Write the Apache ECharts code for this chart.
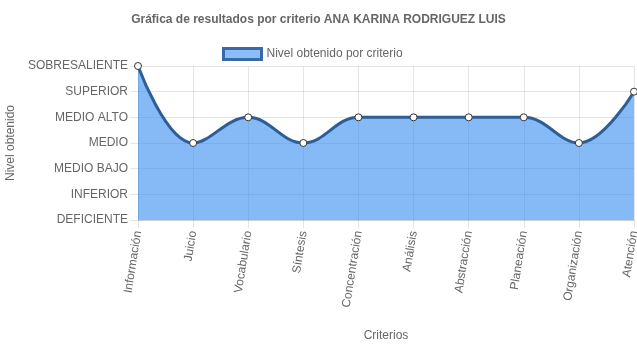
<!DOCTYPE html>
<html>
<head>
<meta charset="utf-8">
<script src="https://cdn.jsdelivr.net/npm/echarts@6/dist/echarts.min.js"></script>
<style>html,body{margin:0;padding:0;background:#fff}#c{width:637px;height:348px}</style>
</head>
<body>
<div id="c"></div>
<script>
const categories = ['Información','Juicio','Vocabulario','Síntesis','Concentración','Análisis','Abstracción','Planeación','Organización','Atención'];
const levelLabels = ['DEFICIENTE','INFERIOR','MEDIO BAJO','MEDIO','MEDIO ALTO','SUPERIOR','SOBRESALIENTE'];
const values = [6,3,4,3,4,4,4,4,3,5];
const seriesName = 'Nivel obtenido por criterio';
const titleText = 'Gráfica de resultados por criterio ANA KARINA RODRIGUEZ LUIS';

const font = 'Liberation Sans, Arial, Helvetica, sans-serif';
const lineColor = '#2d5e95';
const gridColor = 'rgba(0,0,0,0.1)';
const chart = echarts.init(document.getElementById('c'));
chart.setOption({
  animation: false,
  title: {text: titleText, left: 'center', top: 9, textStyle: {fontFamily: font, fontSize: 12, fontWeight: 'bold', color: '#666'}},
  legend: {
    top: 42, left: 217, itemWidth: 38, itemHeight: 11, itemGap: 6,
    textStyle: {fontFamily: font, fontSize: 12, color: '#666'},
    data: [{name: seriesName, icon: 'rect', itemStyle: {color: '#8bbdfa', borderColor: '#3a6aa5', borderWidth: 3}}]
  },
  grid: {left: 138, right: 3, top: 66, bottom: 128, containLabel: false, outerBoundsMode: 'none'},
  xAxis: {
    type: 'category', data: categories, boundaryGap: false,
    name: 'Criterios', nameLocation: 'middle', nameGap: 110,
    nameTextStyle: {fontFamily: font, fontSize: 12, color: '#666'},
    axisLine: {lineStyle: {color: gridColor}},
    axisTick: {show: true, length: 8, lineStyle: {color: gridColor}},
    axisLabel: {interval: 0, rotate: 81, fontFamily: font, fontSize: 12, color: '#666', margin: 11},
    splitLine: {show: true, lineStyle: {color: gridColor}}
  },
  yAxis: {
    type: 'value', min: 0, max: 6, interval: 1,
    name: 'Nivel obtenido', nameLocation: 'middle', nameGap: 117, nameRotate: 90,
    nameTextStyle: {fontFamily: font, fontSize: 12, color: '#666'},
    axisLine: {show: true, lineStyle: {color: gridColor}},
    axisTick: {show: true, length: 8, lineStyle: {color: gridColor}},
    axisLabel: {formatter: v => levelLabels[v] || '', fontFamily: font, fontSize: 12, color: '#666', margin: 10},
    splitLine: {show: true, lineStyle: {color: gridColor}}
  },
  series: [{
    name: seriesName, type: 'line', data: values, smooth: 0.4, clip: false,
    symbol: 'circle', symbolSize: 7,
    lineStyle: {color: lineColor, width: 3},
    itemStyle: {color: '#fff', borderColor: '#333', borderWidth: 1},
    areaStyle: {color: 'rgba(54,140,240,0.6)', opacity: 1}
  }]
});
</script>
</body>
</html>
